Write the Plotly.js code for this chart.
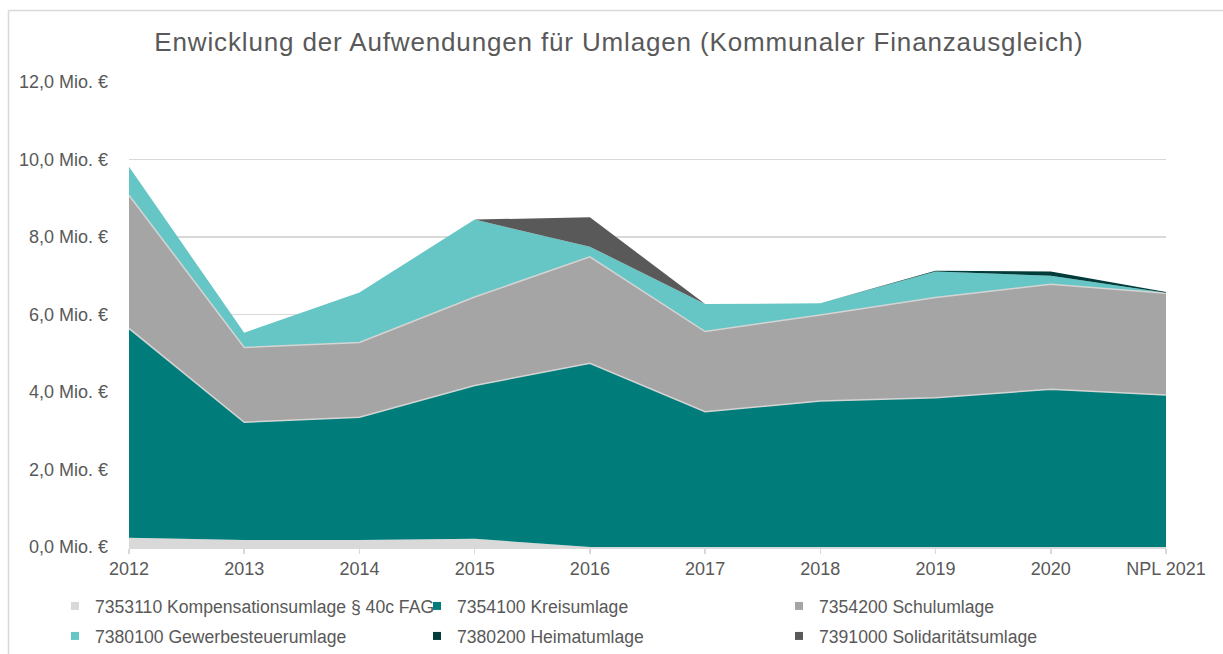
<!DOCTYPE html>
<html>
<head>
<meta charset="utf-8">
<script src="https://cdn.plot.ly/plotly-3.0.1.min.js"></script>
<style>
html,body{margin:0;padding:0;background:#fff;}
#chart{width:1223px;height:654px;}
#chart .gtitle{letter-spacing:0.85px;}
</style>
</head>
<body>
<div id="chart"></div>
<script>
// ---- data (Mio. €) ----
var years = ['2012','2013','2014','2015','2016','2017','2018','2019','2020','NPL 2021'];
var kompensationsumlage = [0.24,0.18,0.18,0.21,0.00,0.00,0.00,0.00,0.00,0.00];
var kreisumlage        = [5.40,3.04,3.17,3.96,4.74,3.49,3.77,3.85,4.07,3.92];
var schulumlage        = [3.44,1.93,1.93,2.28,2.75,2.07,2.22,2.59,2.71,2.63];
var gewerbesteuerumlage= [0.73,0.38,1.29,2.00,0.26,0.71,0.30,0.67,0.22,0.01];
var heimatumlage       = [0.00,0.00,0.00,0.00,0.00,0.00,0.00,0.02,0.11,0.02];
var solidaritaetsumlage= [0.00,0.00,0.00,0.00,0.76,0.00,0.00,0.00,0.00,0.00];

var seriesNames = [
  '7353110 Kompensationsumlage § 40c FAG',
  '7354100 Kreisumlage',
  '7354200 Schulumlage',
  '7380100 Gewerbesteuerumlage',
  '7380200 Heimatumlage',
  '7391000 Solidaritätsumlage'
];
var yTickVals = [0,2,4,6,8,10,12];
var yTickText = ['0,0 Mio. €','2,0 Mio. €','4,0 Mio. €','6,0 Mio. €','8,0 Mio. €','10,0 Mio. €','12,0 Mio. €'];

var seriesValues = [kompensationsumlage, kreisumlage, schulumlage, gewerbesteuerumlage, heimatumlage, solidaritaetsumlage];
var colors = ['#d9d9d9','#007d7a','#a5a5a5','#66c6c5','#013b3a','#595959'];
var edgeWidth = [0, 1.5, 1.5, 0, 0, 0];

var FONT = '"Liberation Sans", Arial, sans-serif';
var TXT = '#595959';

var traces = [];
seriesValues.forEach(function(vals, i){
  traces.push({
    type:'scatter', x: years, y: vals, name: seriesNames[i],
    stackgroup:'one', mode: edgeWidth[i] ? 'lines' : 'none',
    line:{color:'#d4d4d4', width: edgeWidth[i] || 0.001, shape:'linear'},
    fillcolor: colors[i], fill: i === 0 ? 'tozeroy' : 'tonexty',
    showlegend:false, hoverinfo:'x+y+name'
  });
});
// legend entries with square swatches (two rows = two legends)
seriesValues.forEach(function(vals, i){
  traces.push({
    type:'scatter', x:[null], y:[null], name: seriesNames[i],
    mode:'markers', marker:{symbol:'square', size:8, color: colors[i]},
    showlegend:true, hoverinfo:'skip', legend: i < 3 ? 'legend' : 'legend2'
  });
});

var L = 129, R = 1166, T = 82, B = 547;
function px2paperX(p){ return (p - L) / (R - L); }
function px2paperY(p){ return (B - p) / (B - T); }

function legendAt(topPx){
  return {
    orientation:'h', x: px2paperX(55), xanchor:'left',
    y: px2paperY(topPx), yanchor:'top',
    entrywidth:317, entrywidthmode:'pixels',
    font:{family:FONT, size:17.6, color:TXT},
    bgcolor:'rgba(0,0,0,0)', traceorder:'normal'
  };
}

var layout = {
  width:1223, height:654,
  margin:{l:L, r:1223-R, t:T, b:654-B, pad:0, autoexpand:false},
  paper_bgcolor:'#fff', plot_bgcolor:'#fff',
  font:{family:FONT, color:TXT, size:18},
  title:{
    text:'Enwicklung der Aufwendungen für Umlagen (Kommunaler Finanzausgleich)',
    font:{family:FONT, size:26, color:TXT},
    xref:'paper', x: px2paperX(619), xanchor:'center',
    yref:'container', y: 1 - 42/654, yanchor:'middle'
  },
  xaxis:{
    type:'category', range:[0, years.length-1],
    showgrid:false, showline:true, linecolor:'#d9d9d9', linewidth:1.5,
    ticks:'outside', ticklen:5, tickcolor:'#d9d9d9', tickwidth:1.5,
    tickfont:{family:FONT, size:18, color:TXT}, fixedrange:true
  },
  yaxis:{
    range:[0,12], tickvals:yTickVals, ticktext:yTickText,
    showgrid:true, gridcolor:'#d9d9d9', gridwidth:1.5,
    zeroline:false, showline:false, ticks:'', ticklabelstandoff:20,
    tickfont:{family:FONT, size:18, color:TXT}, fixedrange:true
  },
  showlegend:true,
  legend: legendAt(588),
  legend2: legendAt(618),
  shapes:[
    {type:'line', xref:'paper', yref:'paper', x0:px2paperX(8.5), x1:px2paperX(8.5), y0:px2paperY(10.5), y1:px2paperY(660), line:{color:'#d9d9d9', width:1.5}},
    {type:'line', xref:'paper', yref:'paper', x0:px2paperX(8.5), x1:px2paperX(1230), y0:px2paperY(10.5), y1:px2paperY(10.5), line:{color:'#d9d9d9', width:1.5}}
  ]
};

Plotly.newPlot('chart', traces, layout, {displayModeBar:false, staticPlot:true});
</script>
</body>
</html>
